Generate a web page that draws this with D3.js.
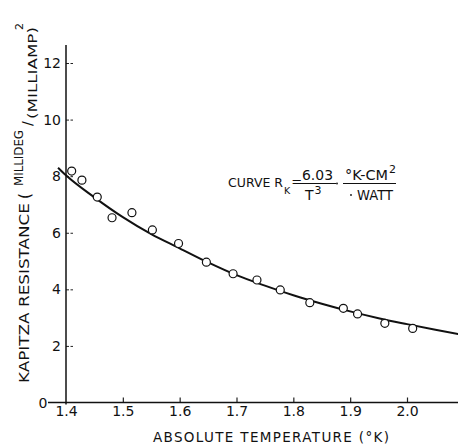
<!DOCTYPE html>
<html lang="en">
<head>
<meta charset="UTF-8">
<title>Kapitza resistance vs temperature</title>
<script src="https://d3js.org/d3.v7.min.js"></script>
<style>
  body, html { margin: 0; padding: 0; background: #fff; }
  svg text { font-family: "DejaVu Sans", "Liberation Sans", sans-serif; fill: #111; }
  .tick line { stroke: #222; }
</style>
</head>
<body>
<svg id="chart" width="458" height="444"></svg>
<script>
// measured points (T in K, R in millideg/milliamp^2)
const pointT = [1.410, 1.428, 1.455, 1.481, 1.516, 1.552, 1.598, 1.647, 1.694, 1.736, 1.777, 1.829, 1.888, 1.913, 1.961, 2.010];
const pointR = [8.18, 7.86, 7.26, 6.53, 6.71, 6.10, 5.62, 4.96, 4.55, 4.33, 3.98, 3.53, 3.33, 3.13, 2.80, 2.62];

// fitted curve
const curveT = [1.386, 1.40, 1.45, 1.50, 1.55, 1.60, 1.65, 1.70, 1.75, 1.80, 1.85, 1.90, 1.95, 2.00, 2.05, 2.09];
const curveR = [8.30, 8.03, 7.25, 6.55, 5.95, 5.45, 4.95, 4.50, 4.13, 3.79, 3.49, 3.22, 2.98, 2.77, 2.57, 2.42];

const xTicks = [1.4, 1.5, 1.6, 1.7, 1.8, 1.9, 2.0];
const yTicks = [2, 4, 6, 8, 10, 12];

const svg = d3.select("#chart");

const x = d3.scaleLinear().domain([1.4, 2.0]).range([66, 407]);
const y = d3.scaleLinear().domain([0, 12]).range([402.5, 63]);

// x axis: ticks point up, labels below
const xAxis = svg.append("g")
  .attr("transform", `translate(0,${y(0)})`)
  .call(d3.axisBottom(x).tickValues(xTicks).tickFormat(d3.format(".1f"))
    .tickSizeInner(-5).tickSizeOuter(0).tickPadding(4));
xAxis.select(".domain").remove();
xAxis.selectAll(".tick line").attr("stroke-width", 1.2)
  .filter(d => d === 1.4).remove();
xAxis.selectAll(".tick text").attr("font-size", 14).attr("fill", "#111");

svg.append("line")
  .attr("x1", 48).attr("x2", 458)
  .attr("y1", y(0)).attr("y2", y(0))
  .attr("stroke", "#111").attr("stroke-width", 1.3);

// y axis: ticks point right, labels on the left
const yAxis = svg.append("g")
  .attr("transform", `translate(${x(1.4)},0)`)
  .call(d3.axisLeft(y).tickValues(yTicks)
    .tickSizeInner(-7).tickSizeOuter(0).tickPadding(5));
yAxis.select(".domain").remove();
yAxis.selectAll(".tick line").attr("stroke-width", 1).attr("stroke-dasharray", "3,1.5");
yAxis.selectAll(".tick text").attr("font-size", 14).attr("fill", "#111");

svg.append("line")
  .attr("x1", x(1.4)).attr("x2", x(1.4))
  .attr("y1", 45).attr("y2", y(0) + 2)
  .attr("stroke", "#111").attr("stroke-width", 1.5);

svg.append("text")
  .attr("x", 43).attr("y", y(0) + 5)
  .attr("text-anchor", "middle")
  .attr("font-size", 14)
  .text("0");

// fitted curve
const line = d3.line()
  .x((d, i) => x(curveT[i]))
  .y(d => y(d))
  .curve(d3.curveMonotoneX);

svg.append("path")
  .datum(curveR)
  .attr("d", line)
  .attr("fill", "none")
  .attr("stroke", "#111")
  .attr("stroke-width", 2);

// data points
svg.selectAll(".pt")
  .data(pointR)
  .join("circle")
  .attr("class", "pt")
  .attr("cx", (d, i) => x(pointT[i]))
  .attr("cy", d => y(d))
  .attr("r", 4)
  .attr("fill", "#fff")
  .attr("stroke", "#111")
  .attr("stroke-width", 1.2);

// x title
svg.append("text")
  .attr("x", 153).attr("y", 442)
  .attr("font-size", 13.5)
  .attr("textLength", 236)
  .attr("lengthAdjust", "spacing")
  .text("ABSOLUTE  TEMPERATURE (°K)");

// y title, rotated pieces
function vtext(xp, yp, size, str, len) {
  const t = svg.append("text")
    .attr("transform", `translate(${xp},${yp}) rotate(-90)`)
    .attr("font-size", size)
    .text(str);
  if (len) t.attr("textLength", len).attr("lengthAdjust", "spacingAndGlyphs");
  return t;
}
vtext(29, 383, 14, "KAPITZA  RESISTANCE", 180);
vtext(30, 199, 15, "(");
vtext(23, 186, 12.5, "MILLIDEG", 56);
vtext(32, 126, 14, "/");
vtext(37, 119, 13, "(MILLIAMP)", 92);
vtext(23, 30, 11, "2");

// curve annotation
const ann = svg.append("g").attr("font-size", 14);
const lhs = ann.append("text").attr("x", 228).attr("y", 187).attr("font-size", 12.5);
lhs.append("tspan").text("CURVE R");
lhs.append("tspan").attr("dx", 1).attr("dy", 7).attr("font-size", 9.5).text("K");
lhs.append("tspan").attr("dx", 1).attr("dy", -8).attr("font-size", 13).text("=");
ann.append("text").attr("x", 302).attr("y", 180).attr("textLength", 31)
  .attr("lengthAdjust", "spacingAndGlyphs").text("6.03");
ann.append("line").attr("x1", 300).attr("x2", 336).attr("y1", 183.5).attr("y2", 183.5)
  .attr("stroke", "#111").attr("stroke-width", 1);
const den = ann.append("text").attr("x", 305).attr("y", 200);
den.append("tspan").text("T");
den.append("tspan").attr("dx", 1).attr("dy", -6).attr("font-size", 11).text("3");
ann.append("circle").attr("cx", 337).attr("cy", 183.5).attr("r", 0.9).attr("fill", "#111");
const unit = ann.append("text").attr("x", 345).attr("y", 180);
unit.append("tspan").attr("textLength", 43).attr("lengthAdjust", "spacingAndGlyphs").text("°K-CM");
unit.append("tspan").attr("dx", 1).attr("dy", -7).attr("font-size", 11).text("2");
ann.append("line").attr("x1", 343).attr("x2", 396).attr("y1", 183.5).attr("y2", 183.5)
  .attr("stroke", "#111").attr("stroke-width", 1);
ann.append("circle").attr("cx", 351).attr("cy", 195).attr("r", 0.9).attr("fill", "#111");
ann.append("text").attr("x", 357).attr("y", 200).attr("textLength", 36)
  .attr("lengthAdjust", "spacingAndGlyphs").text("WATT");
</script>
</body>
</html>
